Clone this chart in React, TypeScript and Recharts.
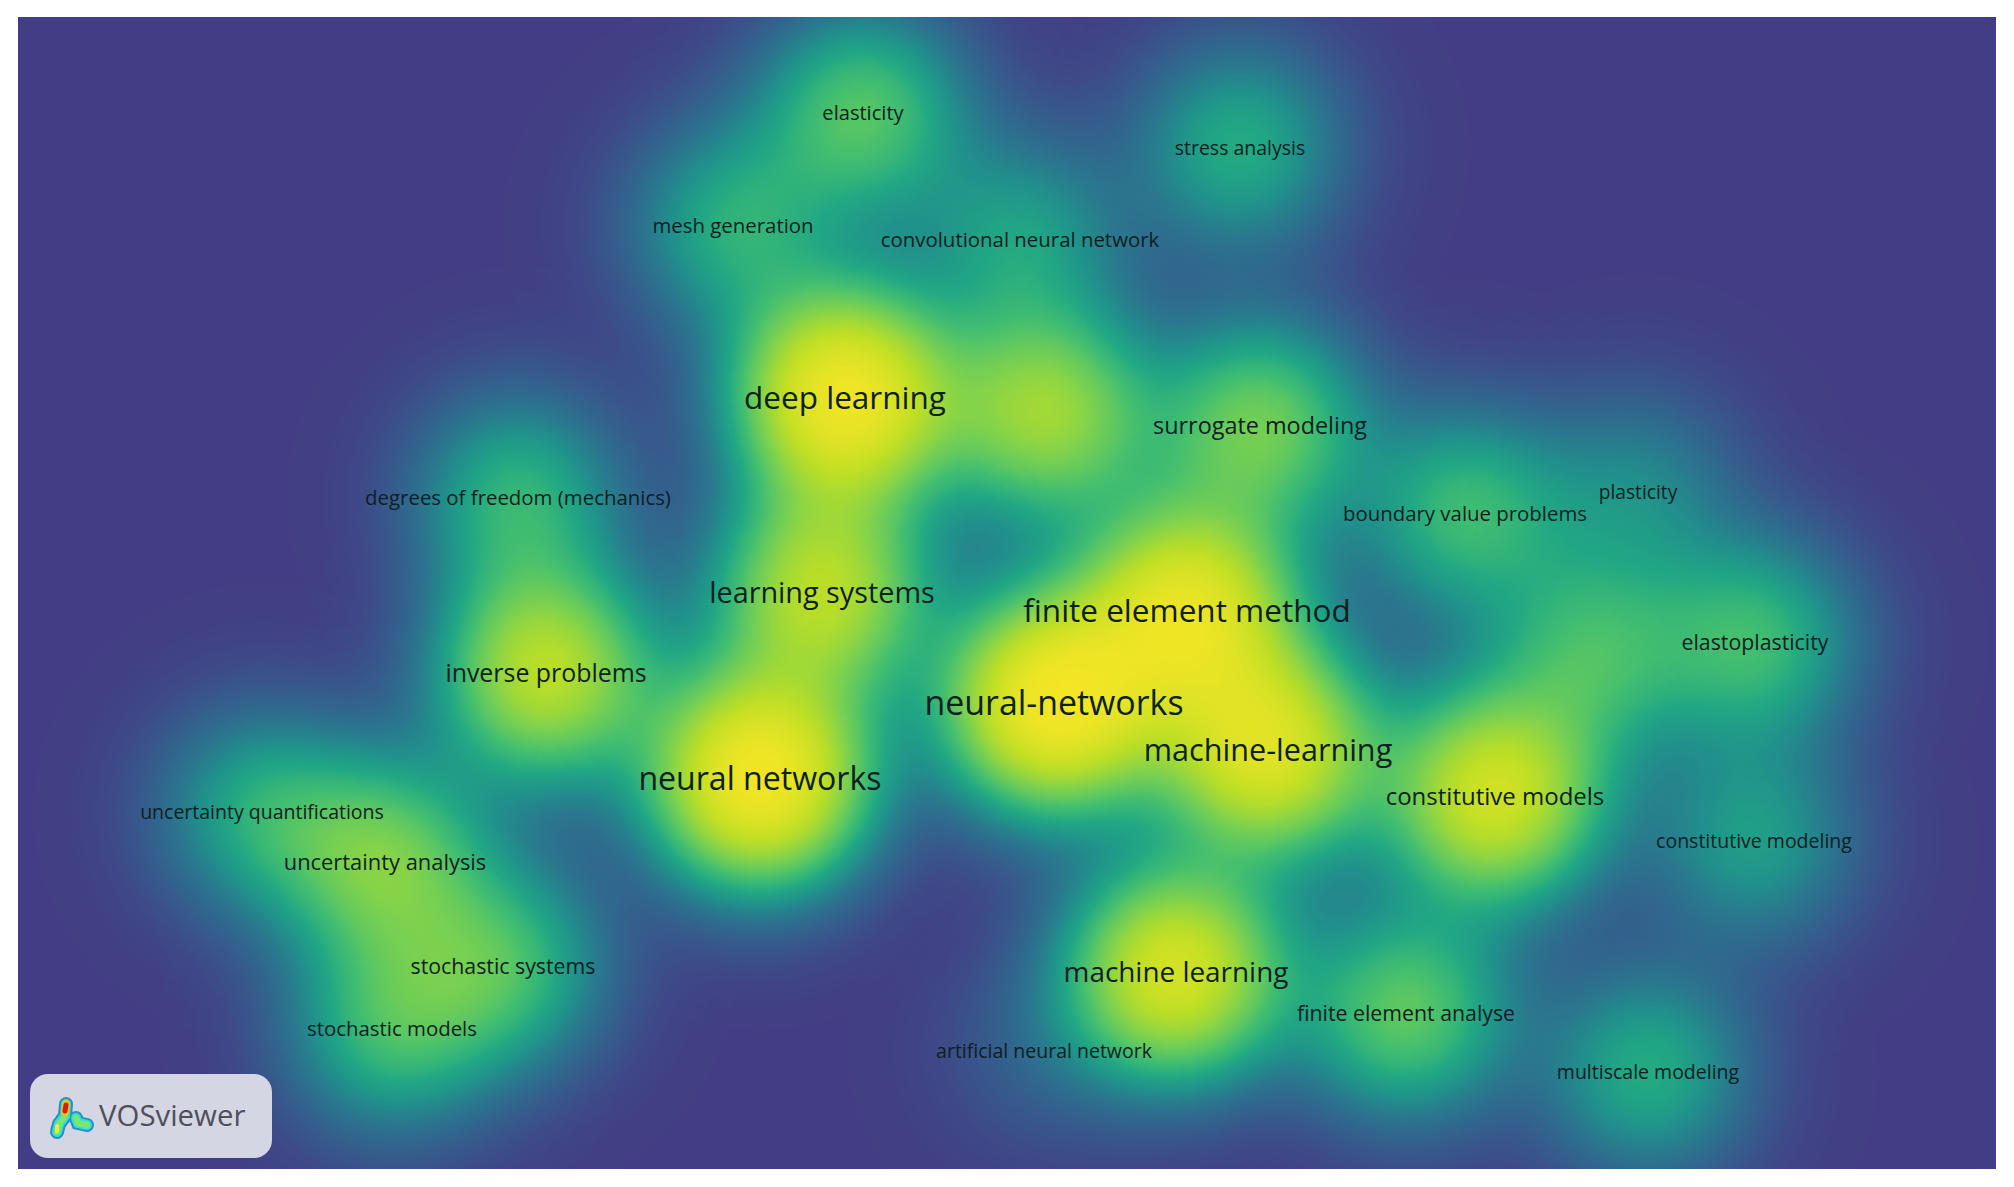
import { Scatter, ScatterChart, XAxis, YAxis } from "recharts";

const KEYWORDS = [
  "elasticity", "stress analysis", "mesh generation", "convolutional neural network",
  "deep learning", "", "surrogate modeling", "degrees of freedom (mechanics)",
  "boundary value problems", "plasticity", "learning systems", "finite element method",
  "elastoplasticity", "", "inverse problems", "neural-networks",
  "machine-learning", "neural networks", "constitutive models", "uncertainty quantifications",
  "constitutive modeling", "uncertainty analysis", "stochastic systems", "machine learning",
  "finite element analyse", "stochastic models", "artificial neural network", "multiscale modeling",
];
const MAP_X = [863, 1240, 733, 1020, 845, 1047, 1260, 518, 1465, 1638, 822, 1187, 1755, 1593, 546, 1054, 1268, 760, 1495, 262, 1754, 385, 503, 1176, 1406, 392, 1044, 1648];
const MAP_Y = [113, 148, 226, 240, 397, 414, 426, 498, 514, 492, 592, 610, 642, 655, 673, 703, 750, 778, 796, 812, 841, 862, 966, 972, 1013, 1029, 1051, 1072];
const DENSITY = [0.58, 0.42, 0.42, 0.36, 1.5, 0.85, 0.68, 0.46, 0.5, 0.25, 0.98, 1.3, 0.5, 0.48, 1.0, 1.55, 1.25, 1.55, 1.15, 0.4, 0.35, 0.66, 0.5, 1.2, 0.62, 0.48, 0.1, 0.42];
const OCCURRENCES = [27, 25, 28, 28, 65, 0, 38, 28, 28, 24, 56, 65, 31, 0, 43, 73, 62, 67, 40, 25, 25, 33, 31, 53, 31, 28, 25, 25];

const rows = KEYWORDS.map((label, i) => ({
  label,
  x: MAP_X[i],
  y: MAP_Y[i],
  density: DENSITY[i],
  occ: OCCURRENCES[i],
}));

const SIGMA = 70;
const PALETTE = [
  [0x43, 0x3e, 0x85], [0x3b, 0x52, 0x8b], [0x32, 0x65, 0x8e], [0x2a, 0x78, 0x8e],
  [0x21, 0x91, 0x8c], [0x22, 0xa8, 0x84], [0x44, 0xbf, 0x70], [0x7a, 0xd1, 0x51],
  [0xbd, 0xdf, 0x26], [0xfd, 0xe7, 0x25],
];

// alpha -> density -> palette, "over" compositing of 1-exp(-d) adds the densities up
const tableFor = (ch: number) => {
  const out: string[] = [];
  for (let k = 0; k <= 255; k++) {
    const d = -Math.log(1 - Math.min(k / 255, 0.999));
    const u = (1 - Math.exp(-1.9 * d)) / 0.97;
    const p = Math.min(1, u) * (PALETTE.length - 1);
    const lo = Math.floor(p);
    const hi = Math.min(PALETTE.length - 1, lo + 1);
    const v = PALETTE[lo][ch] + (PALETTE[hi][ch] - PALETTE[lo][ch]) * (p - lo);
    out.push((v / 255).toFixed(4));
  }
  return out.join(" ");
};

const Blob = (props: any) => {
  const { cx, cy, payload, index } = props;
  const r = SIGMA * 3.6;
  const stops = [];
  for (let i = 0; i <= 28; i++) {
    const t = i / 28;
    const g = Math.exp(-((t * r) ** 2) / (2 * SIGMA * SIGMA));
    stops.push(<stop key={i} offset={t} stopColor="#fff" stopOpacity={1 - Math.exp(-payload.density * g)} />);
  }
  return (
    <g>
      <radialGradient id={`blob-${index}`}>{stops}</radialGradient>
      <circle cx={cx} cy={cy} r={r} fill={`url(#blob-${index})`} />
    </g>
  );
};

const Label = (props: any) => {
  const { cx, cy, payload } = props;
  if (!payload.label) return null;
  return (
    <text
      x={cx}
      y={cy - 1}
      textAnchor="middle"
      dominantBaseline="central"
      fontFamily="'Open Sans'"
      fontSize={12 + payload.occ * 0.3}
      fill="#0d1f22"
    >
      {payload.label}
    </text>
  );
};

export default function App() {
  return (
    <div style={{ position: "absolute", left: 0, top: 0, width: 2014, height: 1187, background: "#fff" }}>
      <style>{`.density-layer { filter: url(#viridis-map); }`}</style>
      <ScatterChart width={2014} height={1187} margin={{ top: 0, right: 0, bottom: 0, left: 0 }}>
        <defs>
          <filter
            id="viridis-map"
            filterUnits="userSpaceOnUse"
            x={18}
            y={17}
            width={1978}
            height={1152}
            colorInterpolationFilters="sRGB"
          >
            <feColorMatrix type="matrix" values="0 0 0 1 0  0 0 0 1 0  0 0 0 1 0  0 0 0 0 1" />
            <feComponentTransfer>
              <feFuncR type="table" tableValues={tableFor(0)} />
              <feFuncG type="table" tableValues={tableFor(1)} />
              <feFuncB type="table" tableValues={tableFor(2)} />
            </feComponentTransfer>
          </filter>
        </defs>
        <XAxis type="number" dataKey="x" domain={[0, 2014]} hide />
        <YAxis type="number" dataKey="y" domain={[0, 1187]} reversed hide />
        <Scatter className="density-layer" data={rows} shape={Blob} isAnimationActive={false} />
        <Scatter data={rows} shape={Label} isAnimationActive={false} />
      </ScatterChart>
      <div
        style={{
          position: "absolute",
          left: 30,
          top: 1074,
          width: 242,
          height: 84,
          borderRadius: 18,
          background: "#d5d6e4",
          color: "#4f4f5c",
          fontFamily: "'Open Sans'",
          fontSize: 29.4,
          lineHeight: "82px",
          paddingLeft: 69,
          boxSizing: "border-box",
        }}
      >
        VOSviewer
      </div>
      <svg style={{ position: "absolute", left: 30, top: 1074 }} width={70} height={84} fill="none" strokeLinecap="round">
        {[
          ["#2a8fc4", 14],
          ["#2fe0d8", 10],
          ["#7ae86a", 6],
        ].map(([c, w]) => (
          <g key={c as string} stroke={c as string} strokeWidth={w as number}>
            <path d="M36 30 L35 42 L29 50 L27 58" />
            <path d="M46 44 L48 49 L57 51" />
          </g>
        ))}
        <path d="M27 52 L27 57" stroke="#f0e83a" strokeWidth={4} />
        <path d="M36 30 L35 38" stroke="#f0c020" strokeWidth={8} />
        <path d="M36 31 L35 37" stroke="#d02010" strokeWidth={5} />
      </svg>
    </div>
  );
}
